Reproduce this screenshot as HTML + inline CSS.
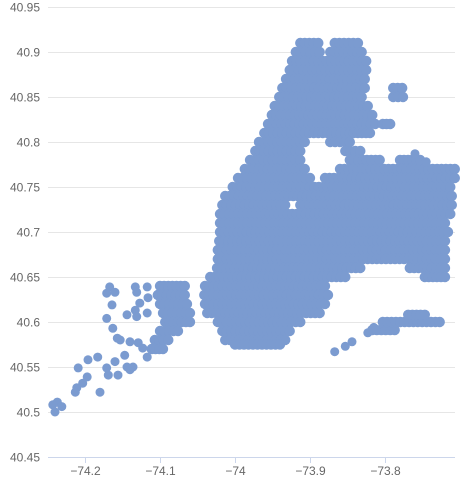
<!DOCTYPE html>
<html><head><meta charset="utf-8"><style>
html,body{margin:0;padding:0;background:#fff;overflow:hidden}
svg{display:block;font-family:"Liberation Sans",sans-serif}
</style></head><body>
<svg id="chart" width="466" height="490">
<g id="grid"></g>
<g id="ylabels"></g>
<g id="xaxis"></g>
<g id="pts" fill="#7b9bd0"></g>
<text x="251" y="501" text-anchor="middle" font-size="14" fill="#333">Longitude</text>
</svg>
<script>
const yTicks=[40.45,40.5,40.55,40.6,40.65,40.7,40.75,40.8,40.85,40.9,40.95];
const xTicks=[-74.2,-74.1,-74,-73.9,-73.8];
const xTickLabels=["−74.2","−74.1","−74","−73.9","−73.8"];
// dense rows: [lat, lonStart, lonEnd]
const rowLat=[40.91,40.91,40.90,40.90,40.89,40.88,40.87,40.86,40.86,40.85,40.85,40.84,40.83,40.82,40.82,40.81,40.81,40.80,40.80,40.79,40.79,40.78,40.78,40.78,40.77,40.77,40.76,40.76,40.75,40.74,40.73,40.73,40.72,40.71,40.70,40.69,40.68,40.67,40.66,40.66,40.65,40.65,40.64,40.63,40.62,40.61,40.60,40.59,40.58,40.575,
40.64,40.63,40.62,40.61,40.60,40.59,40.58,40.57,
40.591,40.600,40.608];
const rowLonStart=[-73.913,-73.867,-73.919,-73.873,-73.924,-73.927,-73.932,-73.937,-73.789,-73.941,-73.789,-73.947,-73.951,-73.956,-73.803,-73.961,-73.847,-73.968,-73.873,-73.973,-73.853,-73.980,-73.847,-73.780,-73.987,-73.860,-73.996,-73.880,-74.003,-74.013,-74.017,-73.913,-74.020,-74.020,-74.020,-74.021,-74.023,-74.023,-74.024,-73.767,-74.033,-73.747,-74.040,-74.041,-74.040,-74.037,-74.023,-74.017,-74.013,-74.000,
-74.100,-74.103,-74.100,-74.096,-74.093,-74.100,-74.107,-74.111,
-73.817,-73.803,-73.769];
const rowLonEnd=[-73.889,-73.836,-73.887,-73.831,-73.825,-73.825,-73.827,-73.827,-73.777,-73.831,-73.776,-73.823,-73.817,-73.813,-73.793,-73.853,-73.820,-73.907,-73.847,-73.913,-73.833,-73.913,-73.807,-73.753,-73.907,-73.707,-73.900,-73.707,-73.713,-73.711,-73.933,-73.711,-73.713,-73.720,-73.716,-73.720,-73.720,-73.720,-73.833,-73.720,-73.853,-73.720,-73.880,-73.876,-73.880,-73.887,-73.913,-73.927,-73.933,-73.940,
-74.067,-74.067,-74.064,-74.060,-74.060,-74.076,-74.089,-74.096,
-73.787,-73.727,-73.747];
// scattered individual points
const ptLon=[-74.167,-74.160,-74.171,-74.164,-74.171,-74.163,-74.157,-74.153,-74.133,-74.131,-74.117,-74.116,-74.127,-74.133,-74.131,-74.117,-74.144,-74.140,-74.129,-74.123,-74.117,-74.147,-74.144,-74.140,-74.136,-74.160,-74.156,-74.171,-74.169,-74.183,-74.196,-74.209,-74.197,-74.203,-74.211,-74.213,-74.180,-74.237,-74.243,-74.231,-74.240,-73.867,-73.853,-73.844,-73.823,-73.815,-73.798,-73.760,-73.745];
const ptLat=[40.639,40.633,40.632,40.619,40.604,40.593,40.582,40.580,40.639,40.633,40.639,40.627,40.621,40.613,40.606,40.610,40.608,40.578,40.577,40.571,40.561,40.563,40.550,40.547,40.550,40.556,40.541,40.549,40.541,40.561,40.558,40.549,40.539,40.532,40.527,40.522,40.522,40.511,40.508,40.506,40.500,40.567,40.573,40.578,40.588,40.594,40.820,40.787,40.778];

const X0=235,XS=750,Y0=457,YS=900;
const px=l=>X0+(l+74)*XS, py=l=>Y0-(l-40.45)*YS;
const NS="http://www.w3.org/2000/svg";
const g=document.getElementById('grid'),yl=document.getElementById('ylabels'),xa=document.getElementById('xaxis'),P=document.getElementById('pts');
yTicks.forEach((t,i)=>{
  const y=Math.round(py(t))+0.5;
  if(i>0){const l=document.createElementNS(NS,'line');
  
  
  l.setAttribute('x1',48);l.setAttribute('x2',455);l.setAttribute('y1',y);l.setAttribute('y2',y);
  l.setAttribute('stroke','#e6e6e6');g.appendChild(l);}
  const tx=document.createElementNS(NS,'text');
  
  
  tx.setAttribute('x',40);tx.setAttribute('y',y+4);tx.setAttribute('text-anchor','end');
  tx.setAttribute('font-size','12');tx.setAttribute('fill','#666');tx.textContent=String(t);yl.appendChild(tx);
});
const ax=document.createElementNS(NS,'line');


ax.setAttribute('x1',48);ax.setAttribute('x2',455);ax.setAttribute('y1',457.5);ax.setAttribute('y2',457.5);ax.setAttribute('stroke','#ccd6eb');xa.appendChild(ax);
xTicks.forEach((t,i)=>{
  const x=Math.round(px(t))+0.5;
  const tk=document.createElementNS(NS,'line');
  
  
  tk.setAttribute('x1',x);tk.setAttribute('x2',x);tk.setAttribute('y1',457);tk.setAttribute('y2',463);tk.setAttribute('stroke','#ccd6eb');xa.appendChild(tk);
  const tx=document.createElementNS(NS,'text');
  
  
  tx.setAttribute('x',x);tx.setAttribute('y',475);tx.setAttribute('text-anchor','middle');
  tx.setAttribute('font-size','12');tx.setAttribute('fill','#666');tx.textContent=xTickLabels[i];xa.appendChild(tx);
});
function dot(lon,lat,r){
  const c=document.createElementNS(NS,'circle');
  
  
  c.setAttribute('cx',px(lon).toFixed(1));c.setAttribute('cy',py(lat).toFixed(1));c.setAttribute('r',r);P.appendChild(c);
}
rowLat.forEach((lat,i)=>{
  const a=rowLonStart[i],b=rowLonEnd[i];
  const n=Math.max(1,Math.round((b-a)/0.006));
  for(let k=0;k<=n;k++) dot(a+(b-a)*k/n,lat,5.2);
});
ptLon.forEach((lon,i)=>dot(lon,ptLat[i],4.5));
</script>
</body></html>
